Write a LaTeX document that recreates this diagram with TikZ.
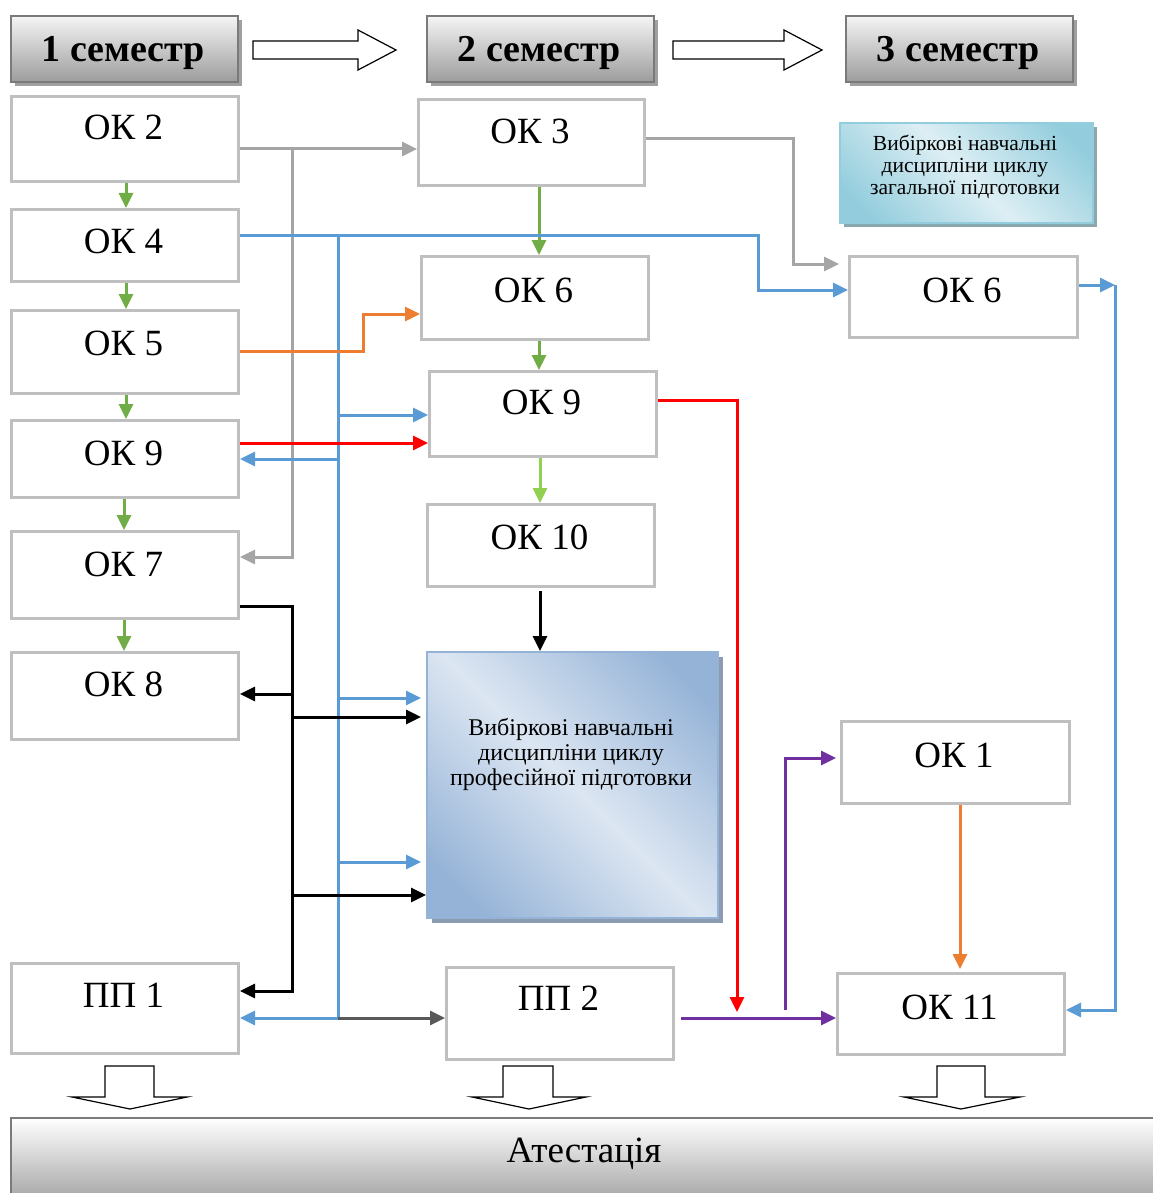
\documentclass[tikz,border=0pt]{standalone}
\usepackage{fontspec}
\setmainfont{Liberation Serif}
\usetikzlibrary{arrows.meta,calc,shadows}
\definecolor{boxgray}{HTML}{BFBFBF}
\definecolor{hborder}{HTML}{7A7A7A}
\definecolor{hbottom}{HTML}{9C9C9C}
\definecolor{shgray}{HTML}{A0A0A0}
\definecolor{cgreen}{HTML}{70AD47}
\definecolor{clgreen}{HTML}{92D050}
\definecolor{cgray}{HTML}{A5A5A5}
\definecolor{cblue}{HTML}{5B9BD5}
\definecolor{corange}{HTML}{ED7D31}
\definecolor{cred}{HTML}{FF0000}
\definecolor{cpurple}{HTML}{7030A0}
\definecolor{cdark}{HTML}{595959}
\definecolor{bluedark}{HTML}{95B3D7}
\definecolor{bluelight}{HTML}{DCE6F2}
\definecolor{bluesh}{HTML}{8C9CB0}
\definecolor{tealdark}{HTML}{93CDDD}
\definecolor{teallight}{HTML}{DDEFF4}
\definecolor{tealsh}{HTML}{8AA8B0}
\pgfdeclareverticalshading{diagblue}{100bp}{color(0bp)=(bluedark); color(22bp)=(bluedark); color(50bp)=(bluelight); color(78bp)=(bluedark); color(100bp)=(bluedark)}
\pgfdeclareverticalshading{diagteal}{100bp}{color(0bp)=(tealdark); color(22bp)=(tealdark); color(50bp)=(teallight); color(78bp)=(tealdark); color(100bp)=(tealdark)}
\tikzset{
  wbox/.style={draw=boxgray, line width=3pt, fill=white, inner sep=0pt, anchor=north west},
  headbox/.style={draw=hborder, line width=2pt, top color=white!96!black, bottom color=hbottom,
    inner sep=0pt, anchor=north west,
    drop shadow={shadow xshift=4pt, shadow yshift=-4pt, opacity=1, fill=shgray}},
  lab/.style={font=\fontsize{37}{40}\selectfont, inner sep=0pt, anchor=base},
  hlab/.style={font=\bfseries\fontsize{38}{40}\selectfont, inner sep=0pt, anchor=base},
  conn/.style={line width=3pt, -{Triangle[length=15pt,width=14pt]}},
  plain/.style={line width=3pt},
  blockarrow/.style={draw=black, line width=1.2pt, fill=white, line join=miter}
}
\begin{document}
\begin{tikzpicture}[x=1pt,y=-1pt]
\useasboundingbox (0,0) rectangle (1152,1193);

% header boxes
\node[headbox, minimum width=227pt, minimum height=66pt] (h1) at (10,15) {};
\node[headbox, minimum width=227pt, minimum height=66pt] (h2) at (426,15) {};
\node[headbox, minimum width=227pt, minimum height=66pt] (h3) at (845,15) {};
\node[hlab] (h1t) at (123.5,62) {1 семестр};
\node[hlab] (h2t) at (539.5,62) {2 семестр};
\node[hlab] (h3t) at (958.5,62) {3 семестр};

% header block arrows
\draw[blockarrow] (253,41) -- (358,41) -- (358,30) -- (396,50) -- (358,70) -- (358,59) -- (253,59) -- cycle;
\draw[blockarrow] (673,41) -- (784,41) -- (784,30) -- (822,50) -- (784,70) -- (784,59) -- (673,59) -- cycle;

% left column
\node[wbox, minimum width=227pt, minimum height=85pt] (l2) at (10,95) {};
\node[wbox, minimum width=227pt, minimum height=72pt] (l4) at (10,208) {};
\node[wbox, minimum width=227pt, minimum height=83pt] (l5) at (10,309) {};
\node[wbox, minimum width=227pt, minimum height=77pt] (l9) at (10,419) {};
\node[wbox, minimum width=227pt, minimum height=87pt] (l7) at (10,530) {};
\node[wbox, minimum width=227pt, minimum height=87pt] (l8) at (10,651) {};
\node[wbox, minimum width=227pt, minimum height=90pt] (lp1) at (10,962) {};
\node[lab] (l2t) at (123.5,140) {ОК 2};
\node[lab] (l4t) at (123.5,253) {ОК 4};
\node[lab] (l5t) at (123.5,355) {ОК 5};
\node[lab] (l9t) at (123.5,465) {ОК 9};
\node[lab] (l7t) at (123.5,576) {ОК 7};
\node[lab] (l8t) at (123.5,696) {ОК 8};
\node[lab] (lp1t) at (123.5,1007) {ПП 1};

% middle column
\node[wbox, minimum width=226pt, minimum height=86pt] (m3) at (417,98) {};
\node[wbox, minimum width=227pt, minimum height=83pt] (m6) at (420,255) {};
\node[wbox, minimum width=227pt, minimum height=85pt] (m9) at (428,370) {};
\node[wbox, minimum width=227pt, minimum height=82pt] (m10) at (426,503) {};
\node[draw=bluedark, line width=2pt, inner sep=0pt, anchor=north west,
      minimum width=291pt, minimum height=266pt,
      shading=diagblue, shading angle=-45,
      drop shadow={shadow xshift=5pt, shadow yshift=-5pt, opacity=1, fill=bluesh}] (mv) at (426,651) {};
\node[wbox, minimum width=227pt, minimum height=92pt] (mp2) at (445,966) {};
\node[lab] (m3t) at (530,144) {ОК 3};
\node[lab] (m6t) at (533.5,302) {ОК 6};
\node[lab] (m9t) at (541.5,414) {ОК 9};
\node[lab] (m10t) at (539.5,549) {ОК 10};
\node[font=\fontsize{24}{25}\selectfont, align=center, inner sep=0pt] (mvt) at (571,754)
  {Вибіркові навчальні\\дисципліни циклу\\професійної підготовки};
\node[lab] (mp2t) at (558.5,1010) {ПП 2};

% right column
\node[draw=tealdark, line width=2pt, inner sep=0pt, anchor=north west,
      minimum width=253pt, minimum height=100pt,
      shading=diagteal, shading angle=-45,
      drop shadow={shadow xshift=4pt, shadow yshift=-4pt, opacity=1, fill=tealsh}] (rt) at (839,122) {};
\node[font=\fontsize{21.5}{22}\selectfont, align=center, inner sep=0pt] (rtt) at (965,167)
  {Вибіркові навчальні\\дисципліни циклу\\загальної підготовки};
\node[wbox, minimum width=228pt, minimum height=81pt] (r6) at (848,255) {};
\node[wbox, minimum width=228pt, minimum height=82pt] (r1) at (840,720) {};
\node[wbox, minimum width=227pt, minimum height=81pt] (r11) at (836,972) {};
\node[lab] (r6t) at (962,302) {ОК 6};
\node[lab] (r1t) at (954,767) {ОК 1};
\node[lab] (r11t) at (949.5,1019) {ОК 11};

% attestation bar
\node[draw=hborder, line width=2pt, inner sep=0pt, anchor=north west,
      minimum width=1160pt, minimum height=90pt, top color=white, bottom color=hbottom] (att) at (10,1117) {};
\node[lab, font=\fontsize{37}{40}\selectfont] (attt) at (584,1162) {Атестація};

% down block arrows
\draw[blockarrow] (105,1066) -- (154,1066) -- (154,1097) -- (187,1097) -- (130,1109) -- (72,1097) -- (105,1097) -- cycle;
\draw[blockarrow] (503,1066) -- (553,1066) -- (553,1097) -- (586,1097) -- (529,1109) -- (472,1097) -- (503,1097) -- cycle;
\draw[blockarrow] (937,1066) -- (985,1066) -- (985,1097) -- (1020,1097) -- (961,1109) -- (904,1097) -- (937,1097) -- cycle;

% coordinates
\coordinate (gA) at (292,149);
\coordinate (gB) at (292,557);
\coordinate (gC) at (793,139);
\coordinate (gD) at (793,264);
\coordinate (bA) at (338,235);
\coordinate (bB) at (758,235);
\coordinate (bC) at (758,290);
\coordinate (bD) at (338,1018);
\coordinate (oA) at (363,351);
\coordinate (oB) at (363,314);
\coordinate (rA) at (737,400);
\coordinate (rB) at (737,1012);
\coordinate (kA) at (292,606);
\coordinate (kB) at (292,991);
\coordinate (pA) at (785,1010);
\coordinate (pB) at (785,758);
\coordinate (bE) at (1115,285);
\coordinate (bF) at (1115,1010);

% green arrows, left column
\draw[conn, cgreen] (l2.south -| 126,0) -- (l4.north -| 126,0);
\draw[conn, cgreen] (l4.south -| 126,0) -- (l5.north -| 126,0);
\draw[conn, cgreen] (l5.south -| 126,0) -- (l9.north -| 126,0);
\draw[conn, cgreen] (l9.south -| 124,0) -- (l7.north -| 124,0);
\draw[conn, cgreen] (l7.south -| 124,0) -- (l8.north -| 124,0);
% green arrows, middle
\draw[conn, cgreen] (m3.south -| 539,0) -- (m6.north -| 539,0);
\draw[conn, cgreen] (m6.south -| 539,0) -- (m9.north -| 539,0);
\draw[conn, clgreen] (m9.south -| 540,0) -- (m10.north -| 540,0);

% gray
\draw[conn, cgray] (l2.east |- gA) -- (m3.west |- gA);
\draw[conn, cgray] (gA) -- (gB) -- (l7.east |- gB);
\draw[conn, cgray, shorten >=9pt] (m3.east |- gC) -- (gC) -- (gD) -- (r6.west |- gD);

% blue
\draw[conn, cblue] (l4.east |- bA) -- (bB) -- (bC) -- (r6.west |- bC);
\draw[plain, cblue] (bA) -- (bD);
\draw[conn, cblue] (338,415) -- (m9.west |- 0,415);
\draw[conn, cblue] (338,459) -- (l9.east |- 0,459);
\draw[conn, cblue, shorten >=5pt] (338,698) -- (mv.west |- 0,698);
\draw[conn, cblue, shorten >=5pt] (338,862) -- (mv.west |- 0,862);
\draw[conn, cblue] (bD) -- (lp1.east |- bD);
\draw[conn, cdark] (bD) -- (mp2.west |- bD);
\draw[conn, cblue] (r6.east |- bE) -- (bE);
\draw[conn, cblue] (bE) -- (bF) -- (r11.east |- bF);

% orange
\draw[conn, corange] (l5.east |- oA) -- (oA) -- (oB) -- (m6.west |- oB);
\draw[conn, corange, shorten >=3pt] (r1.south -| 960,0) -- (r11.north -| 960,0);

% red
\draw[conn, cred] (l9.east |- 0,443) -- (m9.west |- 0,443);
\draw[conn, cred] (m9.east |- rA) -- (rA) -- (rB);

% black
\draw[conn, black] (l7.east |- kA) -- (kA) -- (kB) -- (lp1.east |- kB);
\draw[conn, black] (292,694) -- (l8.east |- 0,694);
\draw[conn, black, shorten >=5pt] (292,717) -- (mv.west |- 0,717);
\draw[conn, black] (292,895) -- (mv.west |- 0,895);
\draw[conn, black, shorten <=3pt] (m10.south -| 540,0) -- (mv.north -| 540,0);

% purple
\draw[conn, cpurple, shorten <=6pt] (mp2.east |- 0,1018) -- (r11.west |- 0,1018);
\draw[conn, cpurple, shorten >=4pt] (pA) -- (pB) -- (r1.west |- pB);
\end{tikzpicture}
\end{document}
